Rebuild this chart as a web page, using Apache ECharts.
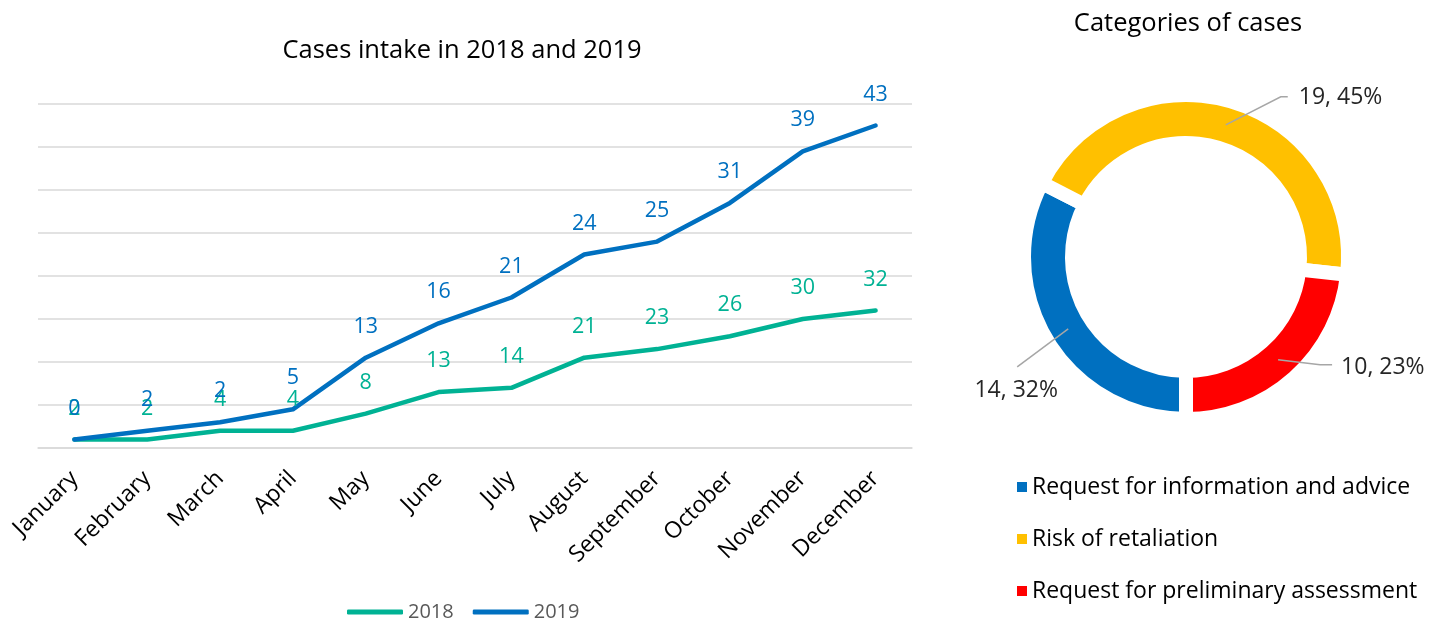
<!DOCTYPE html>
<html>
<head>
<meta charset="utf-8">
<title>Cases intake and categories</title>
<script src="https://cdn.jsdelivr.net/npm/echarts@6/dist/echarts.min.js"></script>
<style>
  html, body { margin: 0; padding: 0; background: #ffffff; }
  #chart { width: 1443px; height: 622px; }
</style>
</head>
<body>
<div id="chart"></div>
<script>
// Monthly intake (the two years are stacked, each label shows its own year's value)
const months = ['January', 'February', 'March', 'April', 'May', 'June', 'July',
                'August', 'September', 'October', 'November', 'December'];
const intake2018 = [2, 2, 4, 4, 8, 13, 14, 21, 23, 26, 30, 32];
const intake2019 = [0, 2, 2, 5, 13, 16, 21, 24, 25, 31, 39, 43];

// Case categories
const categoryNames = ['Request for information and advice', 'Risk of retaliation',
                       'Request for preliminary assessment'];
const categoryCounts = [14, 19, 10];
const categoryShares = [32, 45, 23];

// Styling
const FONT = 'Open Sans';
const GREEN = '#00B294';
const BLUE = '#0070C0';
const categoryColors = ['#0070C0', '#FFC000', '#FF0000'];
const GRID_COLOR = '#D9D9D9';

// Doughnut geometry (visible ring radii; white borders cut the gaps)
const PIE_CENTER = [1186, 257];
const R_OUTER = 155, R_INNER = 121, GAP = 14;
const R_MID = (R_OUTER + R_INNER) / 2;
// Leader line shape per slice: knee / end offsets from the ring midpoint, then the label anchor
const leaders = [
  { knee: [-51, 38], end: [-51, 38], text: [-1, 24], align: 'center' },
  { knee: [55, -28], end: [62, -28], text: [11, 1], align: 'left' },
  { knee: [42, 5], end: [54, 5], text: [9, 3], align: 'left' }
];

const sliceData = () => categoryNames.map((name, i) => ({
  name: name,
  value: categoryCounts[i],
  itemStyle: { color: categoryColors[i] }
}));

const chart = echarts.init(document.getElementById('chart'));

const option = {
  backgroundColor: '#ffffff',
  animation: false,
  textStyle: { fontFamily: FONT },
  title: [
    {
      text: 'Cases intake in 2018 and 2019',
      left: 457, top: 33, textAlign: 'center',
      textStyle: { fontFamily: FONT, fontSize: 25.5, fontWeight: 'normal', color: '#000000' }
    },
    {
      text: 'Categories of cases',
      left: 1183, top: 6, textAlign: 'center',
      textStyle: { fontFamily: FONT, fontSize: 25.5, fontWeight: 'normal', color: '#000000' }
    }
  ],
  legend: [
    {
      data: ['2018', '2019'],
      left: 342, top: 597,
      icon: 'roundRect',
      itemWidth: 56, itemHeight: 5, itemGap: 19,
      textStyle: { fontFamily: FONT, fontSize: 20, color: '#595959' }
    },
    {
      data: categoryNames,
      orient: 'vertical',
      left: 1012, top: 469,
      icon: 'rect',
      itemWidth: 10, itemHeight: 10, itemGap: 26,
      itemStyle: { borderWidth: 0 },
      textStyle: { fontFamily: FONT, fontSize: 23, lineHeight: 26, color: '#000000' }
    }
  ],
  grid: { left: 38, right: 531, top: 104, bottom: 174, containLabel: false },
  xAxis: {
    type: 'category',
    data: months,
    boundaryGap: true,
    axisLine: { show: true, lineStyle: { color: GRID_COLOR, width: 1.5 } },
    axisTick: { show: false },
    axisLabel: {
      interval: 0, rotate: 45, margin: 27,
      fontFamily: FONT, fontSize: 23, color: '#000000'
    }
  },
  yAxis: {
    type: 'value',
    min: 0, max: 80, interval: 10,
    axisLine: { show: false },
    axisTick: { show: false },
    axisLabel: { show: false },
    splitLine: { lineStyle: { color: GRID_COLOR, width: 1.5 } }
  },
  series: [
    {
      name: '2018',
      type: 'line',
      stack: 'intake',
      data: intake2018,
      color: GREEN,
      symbol: 'circle', symbolSize: 0,
      lineStyle: { width: 4.5, color: GREEN, cap: 'round', join: 'round' },
      label: {
        show: true, position: 'top', distance: 20,
        fontFamily: FONT, fontSize: 21.5, color: GREEN
      }
    },
    {
      name: '2019',
      type: 'line',
      stack: 'intake',
      data: intake2019,
      color: BLUE,
      symbol: 'circle', symbolSize: 0,
      lineStyle: { width: 4.5, color: BLUE, cap: 'round', join: 'round' },
      label: {
        show: true, position: 'top', distance: 20,
        fontFamily: FONT, fontSize: 21.5, color: BLUE
      }
    },
    {
      // the coloured ring
      name: 'Categories of cases',
      type: 'pie',
      center: PIE_CENTER,
      radius: [R_INNER - GAP / 2, R_OUTER + GAP / 2],
      startAngle: -90,
      clockwise: true,
      silent: true,
      itemStyle: { borderColor: '#ffffff', borderWidth: GAP },
      data: sliceData(),
      label: { show: false },
      labelLine: { show: false }
    },
    {
      // transparent copy reaching the middle of the ring, carrying the value labels
      name: 'Category labels',
      type: 'pie',
      z: 5,
      center: PIE_CENTER,
      radius: [0, R_MID],
      startAngle: -90,
      clockwise: true,
      silent: true,
      avoidLabelOverlap: false,
      itemStyle: { color: 'rgba(0,0,0,0)', borderWidth: 0 },
      data: sliceData().map(d => Object.assign(d, { itemStyle: { color: 'rgba(0,0,0,0)' } })),
      label: {
        show: true, position: 'outside',
        formatter: p => p.value + ', ' + categoryShares[p.dataIndex] + '%',
        fontFamily: FONT, fontSize: 23, color: '#262626'
      },
      labelLine: {
        show: true, length: 10, length2: 10,
        lineStyle: { color: '#A6A6A6', width: 1.5 }
      },
      labelLayout: function (params) {
        const pts = params.labelLinePoints;
        if (!pts) return {};
        const dx = pts[0][0] - PIE_CENTER[0];
        const dy = pts[0][1] - PIE_CENTER[1];
        const len = Math.sqrt(dx * dx + dy * dy) || 1;
        const start = [PIE_CENTER[0] + dx / len * R_MID, PIE_CENTER[1] + dy / len * R_MID];
        const L = leaders[params.dataIndex];
        const knee = [start[0] + L.knee[0], start[1] + L.knee[1]];
        const end = [start[0] + L.end[0], start[1] + L.end[1]];
        return {
          x: end[0] + L.text[0],
          y: end[1] + L.text[1],
          align: L.align,
          verticalAlign: 'middle',
          labelLinePoints: [start, knee, end]
        };
      }
    }
  ]
};

chart.setOption(option);
</script>
</body>
</html>
